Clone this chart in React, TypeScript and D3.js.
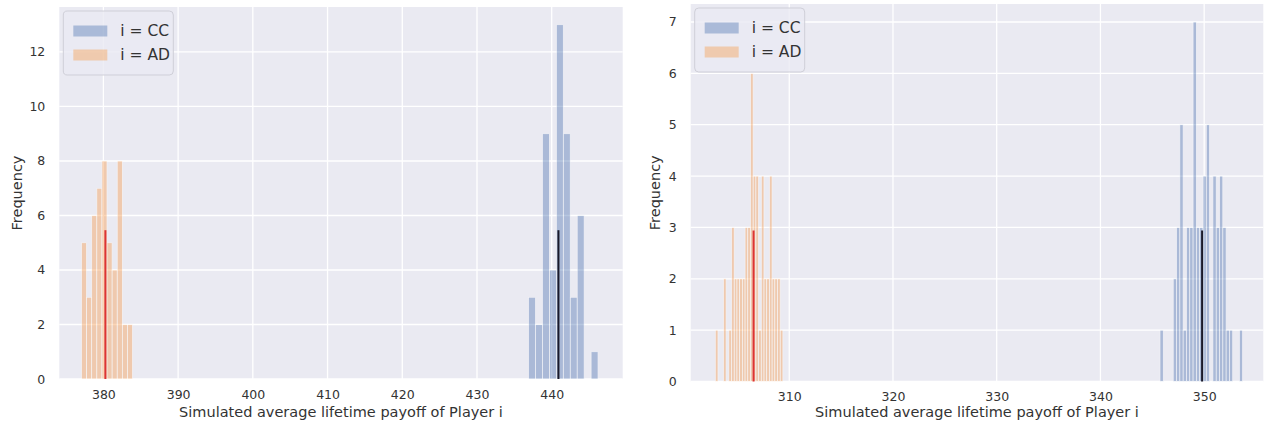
import React, { useEffect, useRef } from "react"
import * as d3 from "d3"

// left panel: 10 bins per series
const leftCcCounts = [3, 2, 9, 4, 13, 9, 3, 6, 0, 1]
const leftCcRange = [436.9, 446.2]
const leftAdCounts = [5, 3, 6, 7, 8, 5, 4, 8, 2, 2]
const leftAdRange = [377.07, 383.9]
const leftMeans = [440.9, 380.27] // CC, AD
const leftXDomain = [374.1, 449.5]
const leftXTicks = [380, 390, 400, 410, 420, 430, 440]
const leftYTicks = [0, 2, 4, 6, 8, 10, 12]

// right panel: 25 bins per series
const rightCcCounts = [1, 0, 0, 0, 2, 3, 5, 1, 3, 3, 7, 3, 3, 4, 5, 0, 4, 3, 4, 3, 1, 1, 0, 0, 1]
const rightCcRange = [345.74, 353.71]
const rightAdCounts = [1, 0, 0, 2, 0, 1, 3, 2, 2, 2, 2, 3, 3, 6, 4, 4, 1, 4, 2, 2, 4, 2, 2, 2, 1]
const rightAdRange = [302.87, 309.39]
const rightMeans = [349.8, 306.56]
const rightXDomain = [300.5, 355.7]
const rightXTicks = [310, 320, 330, 340, 350]
const rightYTicks = [0, 1, 2, 3, 4, 5, 6, 7]

const seriesNames = ["i = CC", "i = AD"]
const xLabel = "Simulated average lifetime payoff of Player i"
const yLabel = "Frequency"

const FONT = "DejaVu Sans, Verdana, sans-serif"
const BG = "#eaeaf2"
const C_CC = "#4c72b0"
const C_AD = "#f7a35c"

const panels = [
  {
    box: { left: 59.3, right: 622.7, top: 7, bottom: 379 },
    yLabelX: 17,
    cc: { counts: leftCcCounts, range: leftCcRange },
    ad: { counts: leftAdCounts, range: leftAdRange },
    means: leftMeans,
    xDomain: leftXDomain,
    xTicks: leftXTicks,
    yTicks: leftYTicks,
  },
  {
    box: { left: 690.7, right: 1263.3, top: 4, bottom: 381.5 },
    yLabelX: 655,
    cc: { counts: rightCcCounts, range: rightCcRange },
    ad: { counts: rightAdCounts, range: rightAdRange },
    means: rightMeans,
    xDomain: rightXDomain,
    xTicks: rightXTicks,
    yTicks: rightYTicks,
  },
]

function toBins(counts: number[], range: number[]) {
  const w = (range[1] - range[0]) / counts.length
  return counts.map((c, i) => ({ x0: range[0] + i * w, x1: range[0] + (i + 1) * w, c }))
}

function drawPanel(svg: any, p: any) {
  const { box } = p
  const x = d3.scaleLinear().domain(p.xDomain).range([box.left, box.right])
  const yMax = (d3.max([...p.cc.counts, ...p.ad.counts]) as number) * 1.05
  const y = d3.scaleLinear().domain([0, yMax]).range([box.bottom, box.top])

  const g = svg.append("g")

  g.append("rect")
    .attr("x", box.left)
    .attr("y", box.top)
    .attr("width", box.right - box.left)
    .attr("height", box.bottom - box.top)
    .attr("fill", BG)

  // grid
  g.selectAll(".vg")
    .data(p.xTicks)
    .join("line")
    .attr("x1", (d: number) => x(d))
    .attr("x2", (d: number) => x(d))
    .attr("y1", box.top)
    .attr("y2", box.bottom)
    .attr("stroke", "#fff")
    .attr("stroke-width", 1.3)
  g.selectAll(".hg")
    .data(p.yTicks)
    .join("line")
    .attr("x1", box.left)
    .attr("x2", box.right)
    .attr("y1", (d: number) => y(d))
    .attr("y2", (d: number) => y(d))
    .attr("stroke", "#fff")
    .attr("stroke-width", 1.3)

  // histograms
  const series = [
    { bins: toBins(p.cc.counts, p.cc.range), color: C_CC, op: 0.4 },
    { bins: toBins(p.ad.counts, p.ad.range), color: C_AD, op: 0.45 },
  ]
  series.forEach(s => {
    g.append("g")
      .selectAll("rect")
      .data(s.bins.filter(b => b.c > 0))
      .join("rect")
      .attr("x", (b: any) => x(b.x0))
      .attr("width", (b: any) => x(b.x1) - x(b.x0))
      .attr("y", (b: any) => y(b.c))
      .attr("height", (b: any) => y(0) - y(b.c))
      .attr("fill", s.color)
      .attr("stroke", "#fff")
      .attr("stroke-width", 0.7)
      .attr("opacity", s.op)
  })

  // mean lines
  const lineColors = ["#1a1a2a", "#dd3333"]
  p.means.forEach((m: number, i: number) => {
    g.append("line")
      .attr("x1", x(m))
      .attr("x2", x(m))
      .attr("y1", y(0))
      .attr("y2", y(yMax * 0.4))
      .attr("stroke", lineColors[i])
      .attr("stroke-width", 2)
  })

  // axes
  const xAxis = g.append("g")
    .attr("transform", "translate(0," + box.bottom + ")")
    .call(d3.axisBottom(x).tickValues(p.xTicks).tickSize(0).tickPadding(11).tickFormat(d3.format("d")))
  const yAxis = g.append("g")
    .attr("transform", "translate(" + box.left + ",0)")
    .call(d3.axisLeft(y).tickValues(p.yTicks).tickSize(0).tickPadding(14).tickFormat(d3.format("d")))
  ;[xAxis, yAxis].forEach(a => {
    a.select(".domain").remove()
    a.selectAll("text")
      .attr("fill", "#333")
      .style("font-family", FONT)
      .style("font-size", "12.5px")
  })

  g.append("text")
    .attr("x", (box.left + box.right) / 2)
    .attr("y", 417)
    .attr("text-anchor", "middle")
    .attr("fill", "#333")
    .style("font-family", FONT)
    .style("font-size", "14.5px")
    .text(xLabel)

  g.append("text")
    .attr("transform", "translate(" + p.yLabelX + "," + (box.top + box.bottom) / 2 + ") rotate(-90)")
    .attr("text-anchor", "middle")
    .attr("dy", "0.35em")
    .attr("fill", "#333")
    .style("font-family", FONT)
    .style("font-size", "14.5px")
    .text(yLabel)

  // legend
  const lx = box.left + 4
  const ly = box.top + 4
  const leg = g.append("g")
  leg.append("rect")
    .attr("x", lx)
    .attr("y", ly)
    .attr("width", 110)
    .attr("height", 64)
    .attr("rx", 4)
    .attr("fill", BG)
    .attr("fill-opacity", 0.8)
    .attr("stroke", "#cfcfd8")
  seriesNames.forEach((name, i) => {
    const cy = ly + 20 + i * 24
    leg.append("rect")
      .attr("x", lx + 10)
      .attr("y", cy - 5.5)
      .attr("width", 34)
      .attr("height", 11)
      .attr("fill", i === 0 ? C_CC : C_AD)
      .attr("opacity", i === 0 ? 0.4 : 0.45)
    leg.append("text")
      .attr("x", lx + 57)
      .attr("y", cy)
      .attr("dy", "0.35em")
      .attr("fill", "#333")
      .style("font-family", FONT)
      .style("font-size", "15.5px")
      .text(name)
  })
}

export default function App() {
  const ref = useRef<SVGSVGElement>(null)
  useEffect(() => {
    const svg = d3.select(ref.current)
    svg.selectAll("*").remove()
    panels.forEach(p => drawPanel(svg, p))
  }, [])
  return (
    <svg
      ref={ref}
      width={1270}
      height={425}
      style={{ position: "absolute", left: 0, top: 0, background: "#fff" }}
    />
  )
}
